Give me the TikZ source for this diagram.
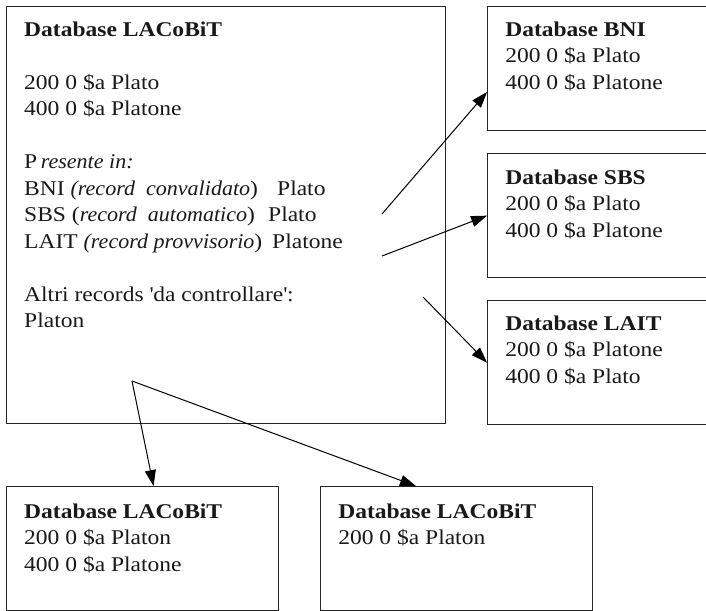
\documentclass[tikz,border=0pt]{standalone}
\usepackage{fontspec}
\setmainfont[FakeStretch=1.12, ItalicFeatures={FakeStretch=1.05}]{Liberation Serif}
\usetikzlibrary{positioning, arrows.meta}

\begin{document}
\begin{tikzpicture}[x=1pt, y=-1pt,
    dbbox/.style={draw=black!85, line width=1.1pt, minimum width=219pt, minimum height=124pt, inner sep=0pt},
    dbtext/.style={align=left, inner sep=0pt, text=black!90, font=\fontsize{21}{26.5}\selectfont},
    arr/.style={-{Triangle[length=16pt, width=11pt]}, line width=1pt}
]
\useasboundingbox (0,0) rectangle (706,610);

% boxes
\node[dbbox, minimum width=439pt, minimum height=417pt, anchor=north west](main) at (6,6){};
\node[dbbox](bni)[below right = 0pt and 41pt of main.north east]{};
\node[dbbox](sbs)[below = 22pt of bni]{};
\node[dbbox](lait)[below = 22pt of sbs]{};
\node[dbbox, minimum width=272pt](lac1)[below right = 62pt and 0pt of main.south west]{};
\node[dbbox, minimum width=272pt](lac2)[right = 41pt of lac1]{};

% texts (first line baseline 30pt below the box top, strut height 18.55pt)
\node[dbtext](maintxt)[below right = 11.5pt and 18pt of main.north west]{%
\strut\textbf{Database LACoBiT}\\[26.5pt]
200 0 \$a Plato\\
400 0 \$a Platone\\[26.5pt]
P\,\textit{resente in:}\\
\makebox[253pt][l]{BNI \textit{(record\ \ convalidato})}Plato\\
\makebox[244pt][l]{SBS (\textit{record\ \ automatico})}Plato\\
\makebox[248pt][l]{LAIT \textit{(record provvisorio})}Platone\\[26.5pt]
Altri records \textquotesingle da controllare\textquotesingle :\\
Platon};
\node[dbtext](bnitxt)[below right = 11.5pt and 18pt of bni.north west]{%
\strut\textbf{Database BNI}\\ 200 0 \$a Plato\\ 400 0 \$a Platone};
\node[dbtext](sbstxt)[below right = 12.5pt and 18pt of sbs.north west]{%
\strut\textbf{Database SBS}\\ 200 0 \$a Plato\\ 400 0 \$a Platone};
\node[dbtext](laittxt)[below right = 11.5pt and 18pt of lait.north west]{%
\strut\textbf{Database LAIT}\\ 200 0 \$a Platone\\ 400 0 \$a Plato};
\node[dbtext](lac1txt)[below right = 13.5pt and 18pt of lac1.north west]{%
\strut\textbf{Database LACoBiT}\\ 200 0 \$a Platon\\ 400 0 \$a Platone};
\node[dbtext](lac2txt)[below right = 13.5pt and 18pt of lac2.north west]{%
\strut\textbf{Database LACoBiT}\\ 200 0 \$a Platon};

% arrows
\coordinate (p1) at (382,214);
\coordinate (p2) at (382,256);
\coordinate (p3) at (423,297);
\coordinate (p4) at (132,381);
\draw[arr] (p1) -- (bni.192);
\draw[arr] (p2) -- (sbs.west);
\draw[arr] (p3) -- (lait.west);
\draw[arr] (p4) -- (lac1.80);
\draw[arr] (p4) -- (lac2.123);
\end{tikzpicture}
\end{document}
